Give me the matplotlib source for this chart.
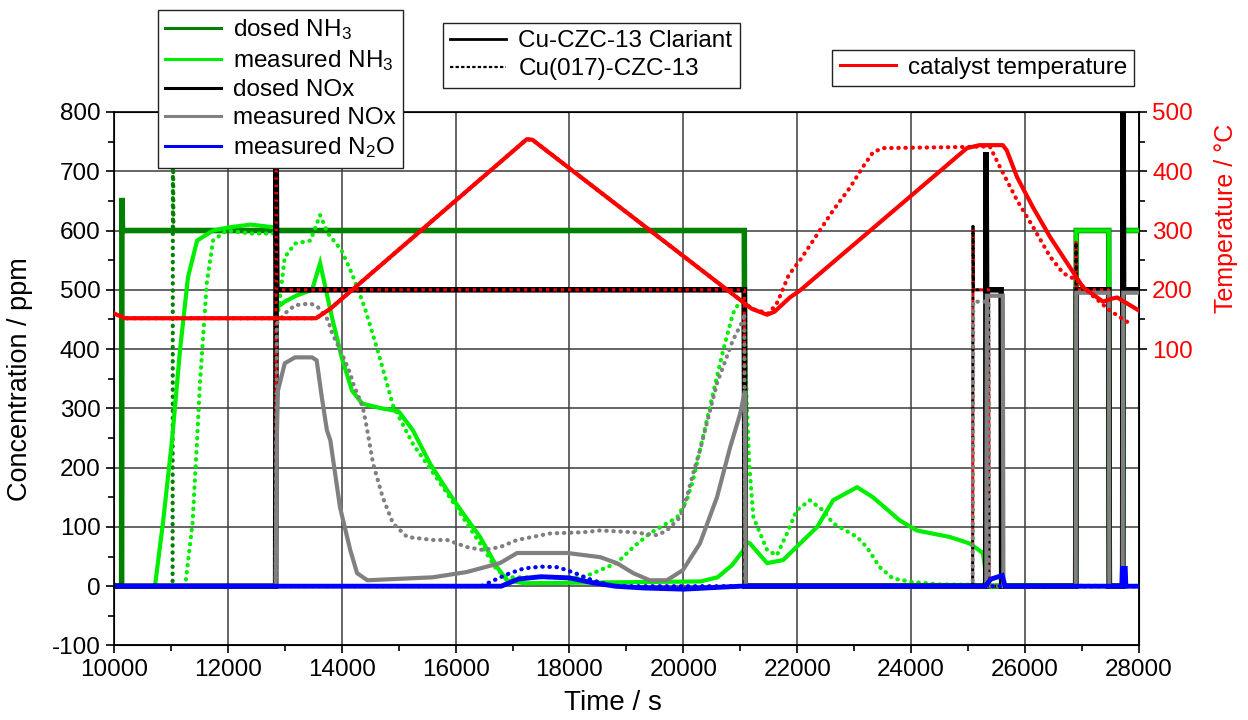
import matplotlib
matplotlib.use("Agg")
import matplotlib.pyplot as plt
from matplotlib.lines import Line2D
from matplotlib.ticker import MultipleLocator, FixedLocator

plt.rcParams['font.family'] = ['Liberation Sans', 'DejaVu Sans']
plt.rcParams['mathtext.fontset'] = 'custom'
plt.rcParams['mathtext.rm'] = 'Liberation Sans'
plt.rcParams['mathtext.it'] = 'Liberation Sans:italic'
plt.rcParams['mathtext.bf'] = 'Liberation Sans:bold'
plt.rcParams['axes.unicode_minus'] = False

# ---- data (time in s, concentration in ppm, temperature in degC)
# solid = Cu-CZC-13 Clariant, dotted = Cu(017)-CZC-13
t_dnh3_a = [10000, 10135, 10140, 10150, 21070, 21085, 26890, 26900, 27470, 27480, 27715, 27725, 28000]
v_dnh3_a = [0, 0, 655, 600, 600, 0, 0, 600, 600, 0, 0, 600, 600]
t_dnh3_b = [10000, 11030, 11036, 11045, 21070, 21085, 28000]
v_dnh3_b = [0, 0, 790, 600, 600, 0, 0]

t_mnh3_a = [10000, 10720, 10860, 11020, 11160, 11300, 11460, 11740, 12000, 12400, 12840,
            12860, 13000, 13200, 13480, 13620, 13830, 14000, 14180, 14360, 14700, 15000,
            15250, 15550, 15850, 16130, 16430, 16730, 16900, 17200, 20300, 20600, 20850,
            21050, 21100, 21170, 21470, 21750, 22050, 22350, 22630, 23050, 23330, 23800,
            24100, 24680, 25030, 25260, 25330, 25400, 26890, 26900, 27470, 27480, 27715,
            27725, 28000]
v_mnh3_a = [0, 0, 106, 246, 398, 521, 583, 600, 605, 610, 605,
            470, 480, 490, 500, 545, 453, 386, 330, 308, 300, 295,
            263, 207, 162, 123, 83, 32, 10, 5, 8, 15, 35,
            60, 75, 72, 39, 44, 72, 100, 145, 167, 150, 111,
            94, 83, 72, 56, 10, 0, 0, 600, 600, 0, 0,
            600, 600]
t_mnh3_b = [10000, 11250, 11380, 11460, 11510, 11630, 11740, 11980, 12400, 12840,
            12860, 13000, 13180, 13450, 13620, 13760, 14000, 14180, 14400, 14630, 14800,
            14900, 15250, 15850, 16430, 16730, 16900, 17500, 18240, 18830, 19120, 19410,
            19710, 19890, 20060, 20170, 20290, 20520, 20700, 20870, 20990, 21070,
            21110, 21160, 21230, 21470, 21640, 21820, 21990, 22220, 22450, 22630, 23050,
            23220, 23450, 23680, 24030, 24500, 28000]
v_mnh3_b = [0, 0, 106, 246, 342, 511, 583, 600, 595, 595,
            443, 555, 578, 583, 626, 595, 566, 527, 471, 398, 340,
            305, 240, 157, 72, 27, 15, 15, 15, 39, 66, 89,
            106, 116, 145, 179, 229, 325, 398, 460, 480, 490,
            314, 200, 116, 61, 52, 89, 128, 145, 128, 106, 83,
            66, 32, 13, 7, 3, 0]

t_dnox_a = [10000, 12840, 12850, 12860, 21070, 21085, 25310, 25315, 25325, 25580, 25590,
            26890, 26900, 27470, 27480, 27715, 27720, 27730, 28000]
v_dnox_a = [0, 0, 720, 500, 500, 0, 0, 732, 500, 500, 0,
            0, 500, 500, 0, 0, 900, 500, 500]
t_dnox_b = [10000, 12840, 12850, 12860, 21070, 21085, 25080, 25086, 25095, 25360, 25370,
            26890, 26895, 26905, 27470, 27480, 28000]
v_dnox_b = [0, 0, 700, 500, 500, 0, 0, 607, 500, 500, 0,
            0, 580, 500, 500, 0, 0]

t_mnox_a = [10000, 12840, 12860, 12880, 13000, 13180, 13480, 13560, 13650, 13740, 13800,
            13970, 14150, 14270, 14450, 15600, 16200, 16780, 17080, 17360, 17960, 18540,
            18830, 19120, 19410, 19710, 19990, 20290, 20590, 20820, 21000, 21080, 21095,
            25320, 25330, 25610, 25620, 26890, 26900, 27470, 27480, 27715, 27725, 28000]
v_mnox_a = [0, 0, 250, 330, 376, 386, 386, 381, 319, 263, 246,
            133, 61, 22, 10, 15, 24, 39, 56, 56, 56, 49,
            39, 22, 10, 10, 27, 72, 150, 234, 292, 330, 0,
            0, 490, 490, 0, 0, 495, 495, 0, 0, 495, 495]
t_mnox_b = [10000, 12840, 12860, 13000, 13180, 13450, 13580, 13760, 13830, 14000, 14150,
            14200, 14370, 14440, 14550, 14720, 14900, 15150, 15600, 15850, 16200, 16480,
            16780, 17080, 17660, 18240, 18540, 19120, 19540, 19710, 19940, 20060, 20170,
            20290, 20590, 20870, 21050, 21070, 21085, 25080, 25090, 25360, 25370, 28000]
v_mnox_b = [0, 0, 443, 460, 474, 477, 471, 449, 427, 393, 359,
            342, 302, 268, 207, 150, 106, 83, 78, 78, 66, 61,
            66, 78, 89, 91, 94, 91, 86, 94, 116, 150, 190,
            229, 342, 415, 449, 460, 0, 0, 480, 480, 0, 0]

t_n2o_a = [10000, 16800, 17100, 17500, 18000, 18400, 18800, 19300, 20000, 20600, 21000,
           25300, 25400, 25600, 25650, 27700, 27710, 27760, 27770, 28000]
v_n2o_a = [0, 0, 12, 16, 14, 6, 0, -3, -5, -2, 0,
           0, 12, 18, 0, 0, 30, 30, 0, 0]
t_n2o_b = [10000, 16450, 16900, 17200, 17500, 17800, 18100, 18400, 18800, 28000]
v_n2o_b = [0, 0, 20, 30, 33, 32, 22, 10, 0, 0]

t_temp_a = [10000, 10200, 13550, 13800, 17250, 17350, 21200, 21470, 21600, 21870, 22050,
            24980, 25200, 25610, 25680, 25860, 26140, 26440, 26740, 27020, 27370, 27520,
            27620, 28000]
v_temp_a = [160, 152, 152, 168, 454, 453, 168, 158, 163, 187, 199,
            439, 444, 444, 435, 390, 339, 289, 245, 204, 180, 185,
            187, 165]
t_temp_b = [10000, 10200, 13550, 13800, 17250, 17350, 21200, 21500, 21640, 21700, 21850,
            22050, 22630, 22930, 23150, 23330, 23500, 24980, 25380, 25560, 25860, 26140,
            26440, 26670, 26910, 27140, 27490, 27840]
v_temp_b = [160, 152, 152, 168, 454, 453, 168, 160, 177, 190, 225,
            250, 334, 373, 407, 432, 439, 441, 442, 407, 351, 306,
            256, 228, 216, 194, 165, 143]

labels_main = [r'dosed NH$_{\mathregular{3}}$', r'measured NH$_{\mathregular{3}}$',
               'dosed NOx', 'measured NOx', r'measured N$_{\mathregular{2}}$O']
labels_cat = ['Cu-CZC-13 Clariant', 'Cu(017)-CZC-13']
label_temp = 'catalyst temperature'

c_dnh3 = '#008000'
c_mnh3 = '#00ee00'
c_dnox = '#000000'
c_mnox = '#808080'
c_n2o = '#0000ff'
c_temp = '#ff0000'

dot = (0, (0.1, 1.6))

fig = plt.figure(figsize=(12.48, 7.2), dpi=100)
ax = fig.add_axes([0.0913, 0.1035, 0.8213, 0.741])

series = [
    (t_dnh3_a, v_dnh3_a, t_dnh3_b, v_dnh3_b, c_dnh3, 4.0),
    (t_mnh3_a, v_mnh3_a, t_mnh3_b, v_mnh3_b, c_mnh3, 3.0),
    (t_dnox_a, v_dnox_a, t_dnox_b, v_dnox_b, c_dnox, 4.0),
    (t_mnox_a, v_mnox_a, t_mnox_b, v_mnox_b, c_mnox, 3.0),
    (t_n2o_a, v_n2o_a, t_n2o_b, v_n2o_b, c_n2o, 3.5),
]
for z, (ta, va, tb, vb, col, lw) in enumerate(series):
    ax.plot(ta, va, color=col, lw=lw, zorder=3 + z, solid_joinstyle='miter')
    if col == c_dnox:
        ax.plot(tb, vb, color=col, lw=2.2, ls=(0, (1.2, 1.2)), gapcolor=c_temp, zorder=3 + z)
    else:
        ax.plot(tb, vb, color=col, lw=3.0, ls=dot, dash_capstyle='round', zorder=3 + z)

ax.set_xlim(10000, 28000)
ax.set_ylim(-100, 800)
ax.xaxis.set_major_locator(MultipleLocator(2000))
ax.xaxis.set_minor_locator(MultipleLocator(1000))
ax.yaxis.set_major_locator(MultipleLocator(100))
ax.yaxis.set_minor_locator(MultipleLocator(50))
ax.grid(True, which='major', color='#3c3c3c', lw=1.1, zorder=0)
ax.set_axisbelow(True)
ax.tick_params(which='major', direction='out', length=6, width=1.2, labelsize=17.5)
ax.tick_params(which='minor', direction='out', length=4, width=1.2)
ax.set_xlabel('Time / s', fontsize=20, va='center')
ax.set_ylabel('Concentration / ppm', fontsize=19.5, va='center')
ax.xaxis.set_label_coords(0.487, -0.108)
ax.yaxis.set_label_coords(-0.092, 0.5)
for s in ax.spines.values():
    s.set_linewidth(1.2)

ax2 = ax.twinx()
ax2.plot(t_temp_a, v_temp_a, color=c_temp, lw=3.0, zorder=3)
ax2.plot(t_temp_b, v_temp_b, color=c_temp, lw=3.0, ls=dot, dash_capstyle='round', zorder=3)
ax2.set_ylim(-400, 500)
ax2.yaxis.set_major_locator(FixedLocator([100, 200, 300, 400, 500]))
ax2.yaxis.set_minor_locator(FixedLocator([150, 250, 350, 450]))
ax2.tick_params(which='major', direction='out', length=6, width=1.2, labelsize=17.5,
                labelcolor=c_temp)
ax2.tick_params(which='minor', direction='out', length=4, width=1.2)
ax2.set_ylabel('Temperature / °C', fontsize=18, color=c_temp, va='center')
ax2.yaxis.set_label_coords(1.085, 0.80)

# ---- three separate legend boxes above the plot
leg_kw = dict(loc='upper left', fontsize=17.5, frameon=True, fancybox=False, framealpha=1,
              edgecolor='#222222', borderaxespad=0, borderpad=0.3, handlelength=2.3,
              handletextpad=0.5, labelspacing=0.25)

h_main = [Line2D([], [], color=c, lw=2.2) for c in [c_dnh3, c_mnh3, c_dnox, c_mnox, c_n2o]]
fig.legend(h_main, labels_main, bbox_to_anchor=(0.1266, 0.986), **leg_kw)

h_cat = [Line2D([], [], color='k', lw=2.0),
         Line2D([], [], color='k', lw=1.6, ls=(0, (1.5, 1.0)))]
fig.legend(h_cat, labels_cat, bbox_to_anchor=(0.355, 0.968), **leg_kw)

h_temp = [Line2D([], [], color=c_temp, lw=2.2)]
fig.legend(h_temp, [label_temp], bbox_to_anchor=(0.667, 0.931), **leg_kw)

fig.savefig('out.png', dpi=100)
